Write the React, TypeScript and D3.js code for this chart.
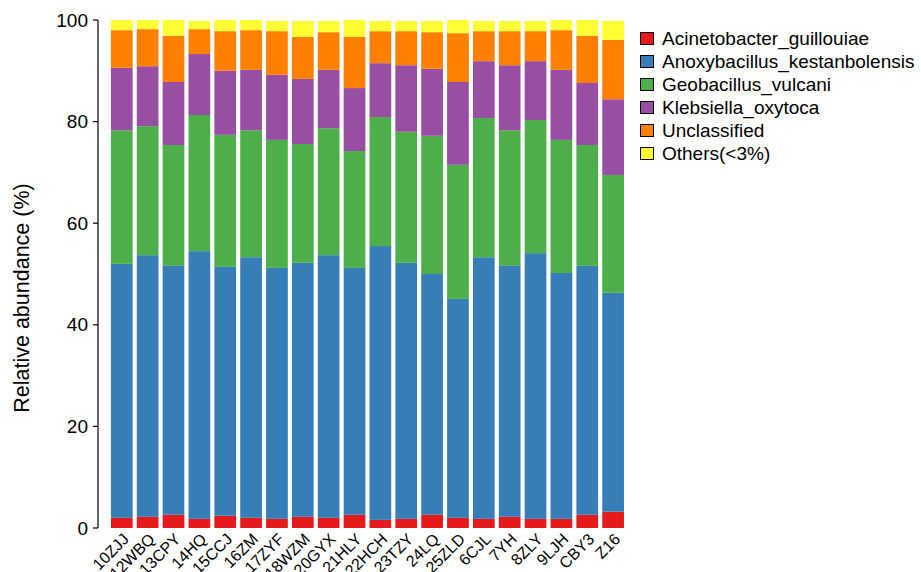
import React from "react";
import * as d3 from "d3";

const samples = ["10ZJJ","12WBQ","13CPY","14HQ","15CCJ","16ZM","17ZYF","18WZM","20GYX","21HLY","22HCH","23TZY","24LQ","25ZLD","6CJL","7YH","8ZLY","9LJH","CBY3","Z16"];
const species = ["Acinetobacter_guillouiae","Anoxybacillus_kestanbolensis","Geobacillus_vulcani","Klebsiella_oxytoca","Unclassified","Others(<3%)"];
const colors = ["#E41A1C","#377EB8","#4DAF4A","#984EA3","#FF7F00","#FFFF33"];

const acinetobacter = [2.0,2.2,2.6,1.8,2.4,2.0,1.8,2.2,2.0,2.6,1.6,1.8,2.6,2.0,1.8,2.2,1.8,1.8,2.6,3.2];
const anoxybacillus = [50.0,51.5,49.0,52.7,49.0,51.3,49.4,50.0,51.7,48.6,53.9,50.4,47.4,43.1,51.5,49.4,52.3,48.4,49.0,43.1];
const geobacillus = [26.3,25.4,23.8,26.8,26.0,25.0,25.2,23.4,25.0,23.0,25.4,25.8,27.2,26.4,27.4,26.7,26.2,26.2,23.8,23.2];
const klebsiella = [12.3,11.8,12.4,12.0,12.6,11.9,12.8,12.8,11.5,12.4,10.6,13.1,13.2,16.3,11.2,12.8,11.6,13.8,12.2,14.9];
const unclassified = [7.4,7.3,9.1,4.9,7.8,7.8,8.6,8.3,7.4,10.1,6.3,6.7,7.2,9.6,5.9,6.7,5.9,7.8,9.3,11.7];
const others = [2.0,1.8,3.1,1.6,2.2,2.0,2.0,3.1,2.2,3.3,2.0,2.0,2.2,2.6,2.0,2.0,2.0,2.0,3.1,3.7];
const yTicks = [0,20,40,60,80,100];

const seriesValues = [acinetobacter, anoxybacillus, geobacillus, klebsiella, unclassified, others];

export default function App() {
  const W = 921, H = 572;
  const table = samples.map((s, i) => {
    const row: any = { sample: s };
    species.forEach((sp, j) => { row[sp] = seriesValues[j][i]; });
    return row;
  });
  const stacked = d3.stack().keys(species)(table);
  const x = d3.scaleBand().domain(samples).range([98, 636.9]).paddingInner(0.16).paddingOuter(0.5);
  const y = d3.scaleLinear().domain([0, 100]).range([528, 20]);
  const font = "Liberation Sans, Arial, sans-serif";

  return (
    <svg width={W} height={H} style={{ position: "absolute", left: 0, top: 0, fontFamily: font }}>
      {stacked.map((layer, j) => (
        <g key={layer.key} fill={colors[j]}>
          {layer.map((d, i) => (
            <rect key={i} x={x(samples[i])} width={x.bandwidth()} y={y(d[1])} height={y(d[0]) - y(d[1])} />
          ))}
        </g>
      ))}
      <line x1={98} x2={98} y1={y(0)} y2={y(100)} stroke="#000" strokeWidth={1.2} />
      {yTicks.map(t => (
        <g key={t} transform={`translate(0,${y(t)})`}>
          <line x1={93} x2={98} stroke="#000" strokeWidth={1.2} />
          <text x={88} dy="0.35em" textAnchor="end" fontSize={19} fill="#000">{t}</text>
        </g>
      ))}
      {samples.map(s => (
        <text key={s} transform={`translate(${x(s)! + x.bandwidth() / 2 + 0},${532}) rotate(-45)`} textAnchor="end" dy="0.72em" fontSize={16} fill="#000">{s}</text>
      ))}
      <text transform={`translate(29,${298}) rotate(-90)`} textAnchor="middle" fontSize={21.5} fill="#000">Relative abundance (%)</text>
      {species.map((sp, j) => (
        <g key={sp} transform={`translate(640,${32 + j * 23})`}>
          <rect x={0.5} y={0.5} width={13} height={12} fill={colors[j]} stroke="#000" strokeWidth={1} />
          <text x={22} y={6.5} dy="0.35em" fontSize={19} fill="#000">{sp}</text>
        </g>
      ))}
    </svg>
  );
}
